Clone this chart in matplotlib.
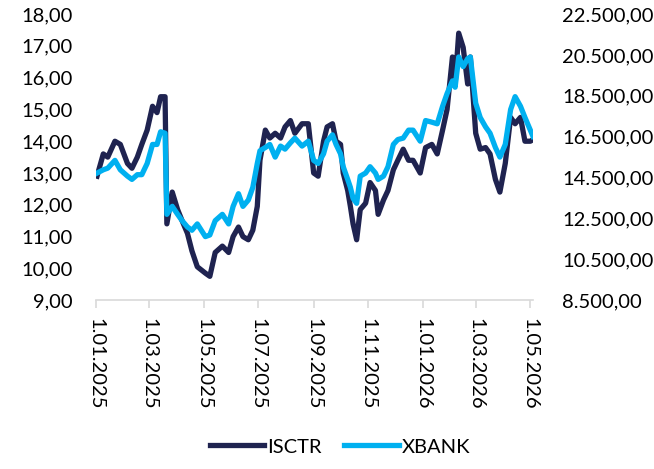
import numpy as np
import pandas as pd
import matplotlib
matplotlib.use("Agg")
import matplotlib.pyplot as plt
from matplotlib.ticker import FuncFormatter, MultipleLocator

plt.rcParams['font.family'] = ['Lato', 'DejaVu Sans']

# dates of the samples
dates = [
    "2025-01-02", "2025-01-09", "2025-01-14", "2025-01-22", "2025-01-28",
    "2025-02-05", "2025-02-10", "2025-02-16", "2025-02-21", "2025-02-27",
    "2025-03-05", "2025-03-10", "2025-03-14", "2025-03-19", "2025-03-21",
    "2025-03-27", "2025-04-02", "2025-04-07", "2025-04-13", "2025-04-18",
    "2025-04-24", "2025-05-03", "2025-05-08", "2025-05-14", "2025-05-22",
    "2025-05-29", "2025-06-03", "2025-06-09", "2025-06-14", "2025-06-20",
    "2025-06-25", "2025-06-30", "2025-07-03", "2025-07-09", "2025-07-14",
    "2025-07-20", "2025-07-26", "2025-07-31", "2025-08-06", "2025-08-11",
    "2025-08-19", "2025-08-26", "2025-09-01", "2025-09-06", "2025-09-12",
    "2025-09-16", "2025-09-22", "2025-09-26", "2025-10-01", "2025-10-04",
    "2025-10-09", "2025-10-12", "2025-10-15", "2025-10-19", "2025-10-23",
    "2025-10-29", "2025-11-03", "2025-11-09", "2025-11-12", "2025-11-18",
    "2025-11-23", "2025-11-29", "2025-12-04", "2025-12-10", "2025-12-16",
    "2025-12-21", "2025-12-29", "2026-01-04", "2026-01-11", "2026-01-17",
    "2026-01-23", "2026-01-28", "2026-02-03", "2026-02-06", "2026-02-10",
    "2026-02-15", "2026-02-20", "2026-02-23", "2026-03-01", "2026-03-06",
    "2026-03-12", "2026-03-17", "2026-03-23", "2026-03-28", "2026-04-03",
    "2026-04-09", "2026-04-14", "2026-04-20", "2026-04-25", "2026-05-01",
    "2026-05-04",
]

isctr = [
    12.9, 13.6, 13.5, 14.0, 13.9, 13.3, 13.15, 13.5, 13.9, 14.35,
    15.1, 14.9, 15.4, 15.4, 11.4, 12.4, 11.85, 11.5, 11.1, 10.55,
    10.05, 9.85, 9.75, 10.5, 10.7, 10.5, 11.0, 11.3, 11.0, 10.9,
    11.2, 11.95, 13.4, 14.35, 14.1, 14.25, 14.1, 14.45, 14.65, 14.25,
    14.55, 14.55, 13.0, 12.9, 14.0, 14.45, 14.55, 14.0, 13.9, 13.0,
    12.45, 11.95, 11.4, 10.9, 11.85, 12.05, 12.7, 12.45, 11.7, 12.15,
    12.45, 13.1, 13.4, 13.75, 13.4, 13.4, 13.0, 13.8, 13.9, 13.6,
    14.35, 15.0, 16.65, 15.8, 17.4, 16.95, 15.8, 16.65, 14.25, 13.75,
    13.8, 13.6, 12.8, 12.4, 13.3, 14.75, 14.55, 14.75, 14.0, 14.0,
    14.05,
]

xbank = [
    14720, 14880, 14960, 15340, 14880, 14570, 14410, 14640, 14640, 15190,
    16120, 16120, 16740, 16670, 12700, 13090, 12700, 12390, 12080, 11920,
    12230, 11610, 11690, 12390, 12700, 12230, 13090, 13710, 13090, 13400,
    14020, 15190, 15810, 15970, 16120, 15500, 16040, 15890, 16200, 16430,
    16040, 16280, 15340, 15190, 15660, 16280, 16590, 16120, 15660, 15030,
    14410, 14020, 13480, 13240, 14570, 14720, 15030, 14720, 14410, 14570,
    15030, 16120, 16360, 16430, 16820, 16820, 16280, 17290, 17210, 17130,
    17990, 18610, 19230, 18920, 20400, 19930, 20320, 20400, 18140, 17440,
    16980, 16670, 15970, 15500, 16120, 17830, 18460, 17990, 17440, 16820,
    16510,
]

dates = pd.to_datetime(dates)
tick_dates = pd.to_datetime(["2025-01-01", "2025-03-01", "2025-05-01", "2025-07-01",
                             "2025-09-01", "2025-11-01", "2026-01-01", "2026-03-01",
                             "2026-05-01"])

dark = "#1f2350"
cyan = "#00b0f0"


def tr_fmt(v, pos):
    s = "{:,.2f}".format(v)
    return s.replace(",", "X").replace(".", ",").replace("X", ".")


fig = plt.figure(figsize=(6.54, 4.69), dpi=100)
ax = fig.add_axes([0.147, 0.360, 0.668, 0.610])
ax2 = ax.twinx()

l1, = ax.plot(dates, isctr, color=dark, lw=3.8, solid_joinstyle="round",
              label="ISCTR")
l2, = ax2.plot(dates, xbank, color=cyan, lw=3.8, solid_joinstyle="round",
               label="XBANK")

ax.set_ylim(9, 18)
ax.yaxis.set_major_locator(MultipleLocator(1))
ax.yaxis.set_major_formatter(FuncFormatter(tr_fmt))
ax2.set_ylim(8500, 22500)
ax2.set_yticks(np.arange(8500, 22501, 2000))
ax2.yaxis.set_major_formatter(FuncFormatter(tr_fmt))

ax.set_xlim(pd.Timestamp("2025-01-01"), pd.Timestamp("2026-05-04"))
ax.set_xticks(tick_dates)
ax.set_xticklabels([d.strftime("%d.%m.%Y").lstrip("0") for d in tick_dates],
                   rotation=-90, fontsize=14.5)

for a in (ax, ax2):
    for s in ("top", "left", "right"):
        a.spines[s].set_visible(False)
    a.spines["bottom"].set_color("#d9d9d9")
    a.spines["bottom"].set_linewidth(1.2)
    a.tick_params(axis="y", length=0, labelsize=14.5, colors="black")

ax.tick_params(axis="y", pad=17)
ax2.tick_params(axis="y", pad=21)
ax.tick_params(axis="x", length=6, width=1.2, color="#d9d9d9", pad=7)
ax2.spines["bottom"].set_visible(False)

fig.legend([l1, l2], ["ISCTR", "XBANK"], loc="center", bbox_to_anchor=(0.52, 0.047),
           ncol=2, frameon=False, fontsize=14.5, handlelength=2.7,
           handletextpad=0.15, columnspacing=1.1)

fig.savefig("out.png", dpi=100)
